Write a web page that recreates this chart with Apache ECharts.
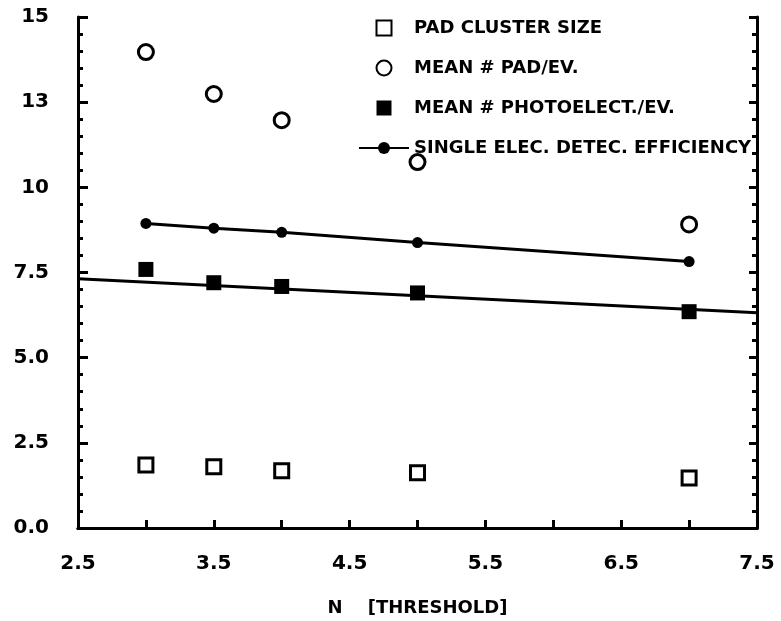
<!DOCTYPE html>
<html>
<head>
<meta charset="utf-8">
<script src="https://cdn.jsdelivr.net/npm/echarts@6/dist/echarts.min.js"></script>
<style>
  html, body { margin: 0; padding: 0; background: #fff; }
  #main { width: 781px; height: 621px; }
</style>
</head>
<body>
<div id="main"></div>
<script>
// threshold values N
var thresholds = [3.0, 3.5, 4.0, 5.0, 7.0];
// series
var padClusterSize = [1.85, 1.80, 1.68, 1.62, 1.47];
var meanPadPerEv = [13.97, 12.74, 11.97, 10.74, 8.91];
var meanPhotoelectPerEv = [7.59, 7.20, 7.09, 6.90, 6.35];
var singleElecEff = [8.94, 8.80, 8.68, 8.38, 7.82];
// straight fit drawn through the photoelectron points
var photoFitX = [2.5, 7.5];
var photoFitY = [7.32, 6.32];
// y tick labels as printed (12.5 printed as "13")
var yTickLabels = ['0.0', '2.5', '5.0', '7.5', '10', '13', '15'];

function pairs(xs, ys) {
  return xs.map(function (x, i) { return [x, ys[i]]; });
}

var font = 'DejaVu Sans';
var squarePath = 'path://M0,0L10,0L10,10L0,10Z';
var chart = echarts.init(document.getElementById('main'));

var axisLineStyle = { color: '#000', width: 3 };

chart.setOption({
  backgroundColor: '#fff',
  animation: false,
  grid: { left: 78, right: 24, top: 17, bottom: 93, outerBoundsMode: 'none', containLabel: false },
  legend: {
    orient: 'vertical',
    left: 358,
    top: 19,
    padding: 0,
    itemWidth: 50,
    itemHeight: 15,
    itemGap: 22,
    textStyle: { fontFamily: font, fontSize: 18, fontWeight: 'bold', color: '#000' },
    data: ['PAD CLUSTER SIZE', 'MEAN # PAD/EV.', 'MEAN # PHOTOELECT./EV.', 'SINGLE ELEC. DETEC. EFFICIENCY']
  },
  xAxis: [{
    type: 'value',
    min: 2.5,
    max: 7.5,
    interval: 0.5,
    name: 'N    [THRESHOLD]',
    nameLocation: 'middle',
    nameGap: 71,
    nameTextStyle: { fontFamily: font, fontSize: 18, fontWeight: 'bold', color: '#000' },
    axisLine: { lineStyle: axisLineStyle },
    axisTick: { inside: true, length: 8, lineStyle: { color: '#000', width: 3 } },
    axisLabel: {
      margin: 26,
      fontFamily: font, fontSize: 20, fontWeight: 'bold', color: '#000',
      formatter: function (v) {
        return Math.round(v * 2) % 2 === 1 ? v.toFixed(1) : '';
      }
    },
    splitLine: { show: false }
  }, {
    type: 'value',
    position: 'top',
    min: 2.5,
    max: 7.5,
    interval: 0.5,
    axisLine: { show: true, lineStyle: axisLineStyle },
    axisTick: { show: false },
    axisLabel: { show: false },
    splitLine: { show: false }
  }],
  yAxis: [{
    type: 'value',
    min: 0,
    max: 15,
    interval: 2.5,
    axisLine: { show: true, lineStyle: axisLineStyle },
    axisTick: { show: true, inside: true, length: 10, lineStyle: { color: '#000', width: 3 } },
    minorTick: { show: true, splitNumber: 5, length: 5, lineStyle: { color: '#000', width: 3 } },
    axisLabel: {
      margin: 29,
      fontFamily: font, fontSize: 20, fontWeight: 'bold', color: '#000',
      formatter: function (v) { return yTickLabels[Math.round(v / 2.5)]; }
    },
    splitLine: { show: false }
  }, {
    type: 'value',
    position: 'right',
    min: 0,
    max: 15,
    interval: 2.5,
    axisLine: { show: true, lineStyle: axisLineStyle },
    axisTick: { show: true, inside: true, length: 8, lineStyle: { color: '#000', width: 3 } },
    minorTick: { show: true, splitNumber: 5, length: 5, lineStyle: { color: '#000', width: 3 } },
    axisLabel: { show: false },
    splitLine: { show: false }
  }],
  series: [
    {
      name: 'PAD CLUSTER SIZE',
      type: 'scatter',
      symbol: squarePath,
      symbolKeepAspect: true,
      symbolSize: 14,
      itemStyle: { color: '#fff', borderColor: '#000', borderWidth: 3, opacity: 1 },
      data: pairs(thresholds, padClusterSize)
    },
    {
      name: 'MEAN # PAD/EV.',
      type: 'scatter',
      symbol: 'circle',
      symbolSize: 15,
      itemStyle: { color: '#fff', borderColor: '#000', borderWidth: 3, opacity: 1 },
      data: pairs(thresholds, meanPadPerEv)
    },
    {
      name: 'MEAN # PHOTOELECT./EV.',
      type: 'scatter',
      symbol: squarePath,
      symbolKeepAspect: true,
      symbolSize: 15,
      itemStyle: { color: '#000', opacity: 1 },
      data: pairs(thresholds, meanPhotoelectPerEv)
    },
    {
      name: 'photo fit',
      type: 'line',
      showSymbol: false,
      silent: true,
      lineStyle: { color: '#000', width: 3 },
      data: pairs(photoFitX, photoFitY)
    },
    {
      name: 'SINGLE ELEC. DETEC. EFFICIENCY',
      type: 'line',
      symbol: 'circle',
      symbolSize: 11,
      showAllSymbol: true,
      itemStyle: { color: '#000' },
      lineStyle: { color: '#000', width: 3 },
      data: pairs(thresholds, singleElecEff)
    }
  ]
});
</script>
</body>
</html>
